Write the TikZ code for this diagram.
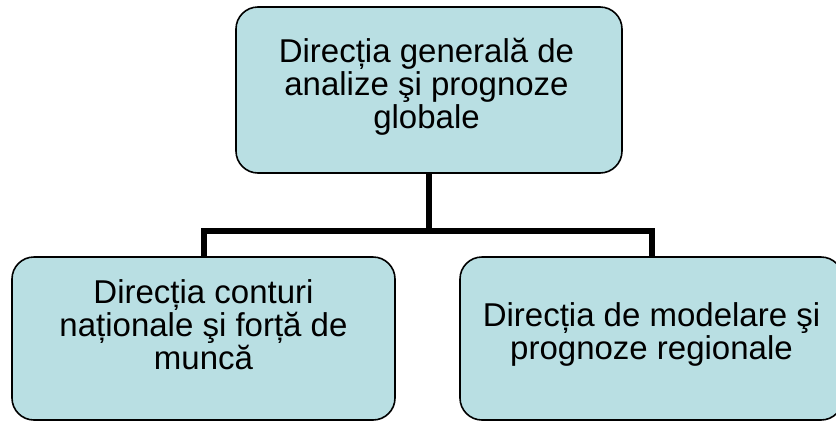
\documentclass[tikz,border=0pt]{standalone}
\usepackage{fontspec}
\setmainfont{Liberation Sans}
\definecolor{boxfill}{HTML}{B9DFE3}
\begin{document}
\begin{tikzpicture}[x=1pt,y=-1pt,
  box/.style={draw=black, line width=1.6pt, fill=boxfill, rounded corners=22pt,
    minimum width=383pt, minimum height=163pt, inner sep=0pt, outer sep=0pt},
  txt/.style={anchor=base, inner sep=0pt, font=\fontsize{33}{34}\selectfont},
  conn/.style={line width=6pt, draw=black}]
\useasboundingbox (0,0) rectangle (836,421);
\clip (0,0) rectangle (836,421);
\coordinate (j) at (428,231);
\node[box, minimum width=386pt, minimum height=166pt] (top) at (429,90) {};
\node[box] (left) at (203.5,338.5) {};
\node[box] (right) at (651.5,338.5) {};
\draw[conn] (top.south) -- (top.south |- j);
\draw[conn] (left.north) |- (right.north |- j) -- (right.north);
\node[txt] (t1) at (426.5,62) {Direcția generală de};
\node[txt] (t2) at (426.5,95) {analize şi prognoze};
\node[txt] (t3) at (426.5,128) {globale};
\node[txt] (l1) at (203.5,303) {Direcția conturi};
\node[txt] (l2) at (203.5,336) {naționale şi forță de};
\node[txt] (l3) at (203.5,369) {muncă};
\node[txt] (r1) at (651.5,326) {Direcția de modelare şi};
\node[txt] (r2) at (651.5,359.5) {prognoze regionale};
\end{tikzpicture}
\end{document}
